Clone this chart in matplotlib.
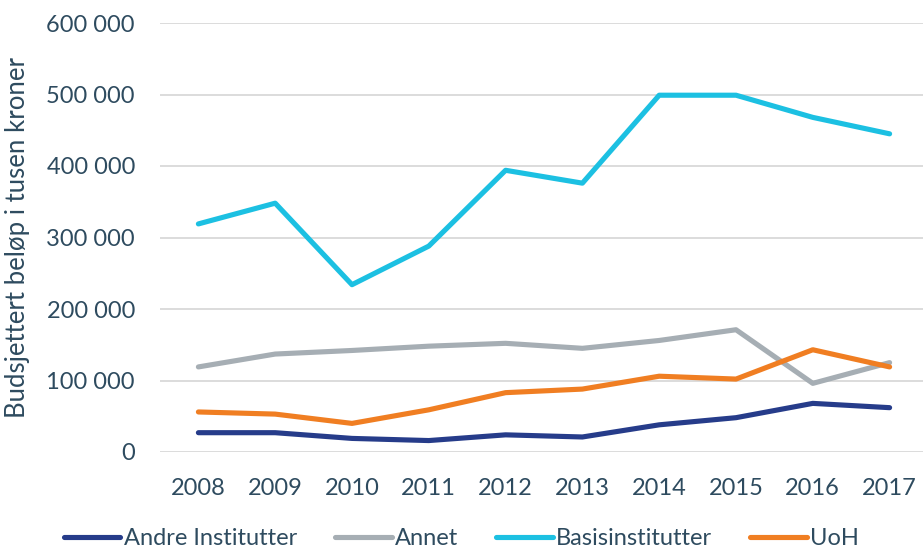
import matplotlib.pyplot as plt
from matplotlib.ticker import FuncFormatter

years = [2008, 2009, 2010, 2011, 2012, 2013, 2014, 2015, 2016, 2017]
andre = [27000, 27000, 19000, 16000, 24000, 21000, 38000, 48000, 68000, 62000]
annet = [119000, 137000, 142000, 148000, 152000, 145000, 156000, 171000, 96000, 125000]
basis = [319000, 348000, 234000, 288000, 394000, 376000, 499000, 499000, 468000, 445000]
uoh = [56000, 53000, 40000, 59000, 83000, 88000, 106000, 102000, 143000, 119000]

series = [
    ('Andre Institutter', andre, '#263c8a'),
    ('Annet', annet, '#a6aeb4'),
    ('Basisinstitutter', basis, '#1cc0e2'),
    ('UoH', uoh, '#f07e22'),
]

text_color = '#2e4b5f'
plt.rcParams['font.family'] = ['Lato', 'DejaVu Sans']

fig = plt.figure(figsize=(9.23, 5.55), dpi=100)
ax = fig.add_axes([160 / 923, 1 - 452 / 555, 768 / 923, 429 / 555])

x = list(range(len(years)))
for name, vals, color in series:
    ax.plot(x, vals, color=color, lw=3.7, label=name,
            solid_capstyle='round', solid_joinstyle='round')

ax.set_xlim(-0.5, len(years) - 0.5)
ax.set_ylim(0, 600000)
ax.set_yticks(range(0, 600001, 100000))
ax.yaxis.set_major_formatter(FuncFormatter(lambda v, p: f'{int(v):,}'.replace(',', ' ')))
ax.set_xticks(x)
ax.set_xticklabels([str(y) for y in years])
ax.grid(axis='y', color='#d9d9d9', lw=1.3)
ax.set_axisbelow(True)
for s in ax.spines.values():
    s.set_visible(False)
ax.tick_params(length=0, labelsize=17, colors=text_color)
ax.tick_params(axis='x', pad=19)
ax.tick_params(axis='y', pad=18)
ax.set_ylabel('Budsjettert beløp i tusen kroner', fontsize=18.5, color=text_color)
ax.yaxis.set_label_coords(-130 / 768, 0.5)

leg = fig.legend(loc='lower center', bbox_to_anchor=(0.5, -0.028), ncol=4, frameon=False,
                 fontsize=17, handlelength=2.4, handletextpad=0.15, columnspacing=1.6)
for t in leg.get_texts():
    t.set_color(text_color)

fig.savefig('out.png', dpi=100)
